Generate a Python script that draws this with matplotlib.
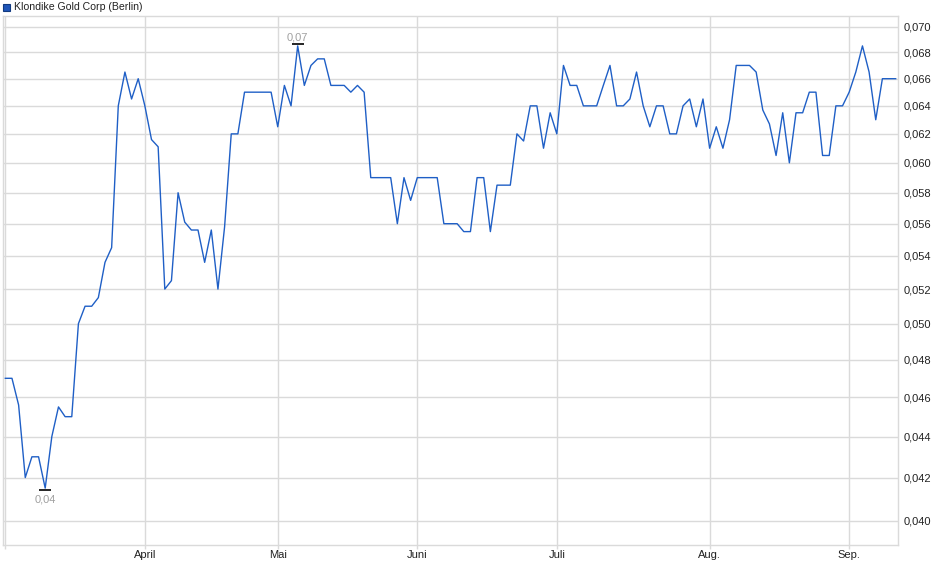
import matplotlib
matplotlib.use('Agg')
import matplotlib.pyplot as plt
import matplotlib.ticker as mticker
import matplotlib.transforms as mtrans
import numpy as np

plt.rcParams['font.family'] = ['Liberation Sans', 'DejaVu Sans']

# daily closing prices (EUR), Berlin
prices = [0.047, 0.047, 0.0456, 0.042, 0.043, 0.043, 0.0415, 0.044, 0.0455, 0.045,
          0.045, 0.050, 0.051, 0.051, 0.0515, 0.0536, 0.0545, 0.064, 0.0665, 0.0645,
          0.066, 0.064, 0.0616, 0.0611, 0.052, 0.0525, 0.058, 0.0561, 0.0556, 0.0556,
          0.0536, 0.0556, 0.052, 0.0558, 0.062, 0.062, 0.065, 0.065, 0.065, 0.065,
          0.065, 0.0625, 0.0655, 0.064, 0.0685, 0.0655, 0.067, 0.0675, 0.0675, 0.0655,
          0.0655, 0.0655, 0.065, 0.0655, 0.065, 0.059, 0.059, 0.059, 0.059, 0.056,
          0.059, 0.0575, 0.059, 0.059, 0.059, 0.059, 0.056, 0.056, 0.056, 0.0555,
          0.0555, 0.059, 0.059, 0.0555, 0.0585, 0.0585, 0.0585, 0.062, 0.0615, 0.064,
          0.064, 0.061, 0.0635, 0.062, 0.067, 0.0655, 0.0655, 0.064, 0.064, 0.064,
          0.0655, 0.067, 0.064, 0.064, 0.0645, 0.0665, 0.064, 0.0625, 0.064, 0.064,
          0.062, 0.062, 0.064, 0.0645, 0.0625, 0.0645, 0.061, 0.0625, 0.061, 0.063,
          0.067, 0.067, 0.067, 0.0665, 0.0637, 0.0627, 0.0605, 0.0635, 0.060, 0.0635,
          0.0635, 0.065, 0.065, 0.0605, 0.0605, 0.064, 0.064, 0.065, 0.0665, 0.0685,
          0.0665, 0.063, 0.066, 0.066, 0.066]

month_pos = [0, 21, 41, 62, 83, 106, 127]
month_labels = ['', 'April', 'Mai', 'Juni', 'Juli', 'Aug.', 'Sep.']
y_ticks = [0.040, 0.042, 0.044, 0.046, 0.048, 0.050, 0.052, 0.054,
           0.056, 0.058, 0.060, 0.062, 0.064, 0.066, 0.068, 0.070]

x = np.arange(len(prices))
grid_c = '#dadada'

fig = plt.figure(figsize=(9.4, 5.79), dpi=100)
ax = fig.add_axes([3 / 940, 34 / 579, 895 / 940, 529 / 579])

ax.plot(x, prices, color='#1f5fc6', lw=1.0, zorder=3)

ax.set_yscale('log')
ax.set_ylim(0.03891, 0.07086)
ax.set_xlim(-0.35, 134.35)

ax.yaxis.set_major_locator(mticker.FixedLocator(y_ticks))
ax.yaxis.set_minor_locator(mticker.NullLocator())
ax.set_yticks(y_ticks)
ax.set_yticklabels([('%.3f' % v).replace('.', ',') for v in y_ticks])
ax.yaxis.tick_right()
ax.tick_params(axis='y', length=0, pad=4, labelsize=8, labelcolor='#222222')

ax.set_xticks(month_pos)
ax.set_xticklabels(month_labels)
ax.tick_params(axis='x', length=3, width=1, color=grid_c, pad=0.5, labelsize=8,
               labelcolor='#222222')

ax.grid(True, color=grid_c, lw=1)
ax.set_axisbelow(True)
for s in ax.spines.values():
    s.set_color(grid_c)
    s.set_linewidth(1)

# min / max markers
i_min = int(np.argmin(prices))
i_max = int(np.argmax(prices))
down = ax.transData + mtrans.ScaledTranslation(0, -1.5 / 100, fig.dpi_scale_trans)
up = ax.transData + mtrans.ScaledTranslation(0, 1.5 / 100, fig.dpi_scale_trans)
ax.plot([i_min], [prices[i_min]], marker='_', ms=8, mew=1.2, color='black', zorder=4,
        transform=down)
ax.annotate('0,04', xy=(i_min, prices[i_min]), xytext=(0, -4.5), textcoords='offset points',
            ha='center', va='top', fontsize=8, color='#a0a0a0')
ax.plot([i_max], [prices[i_max]], marker='_', ms=8, mew=1.2, color='black', zorder=4,
        transform=up)
ax.annotate('0,07', xy=(i_max, prices[i_max]), xytext=(0, 2.5), textcoords='offset points',
            ha='center', va='bottom', fontsize=8, color='#a0a0a0')

# legend
fig.patches.append(plt.Rectangle((3 / 940, 1 - 11 / 579), 7 / 940, 7 / 579,
                                 transform=fig.transFigure, facecolor='#1f55b8',
                                 edgecolor='#123a80', lw=0.8))
fig.text(14 / 940, 1 - 7.5 / 579, 'Klondike Gold Corp (Berlin)', fontsize=7.6,
         color='#222222', va='center', ha='left')

fig.savefig('out.png', dpi=100)
